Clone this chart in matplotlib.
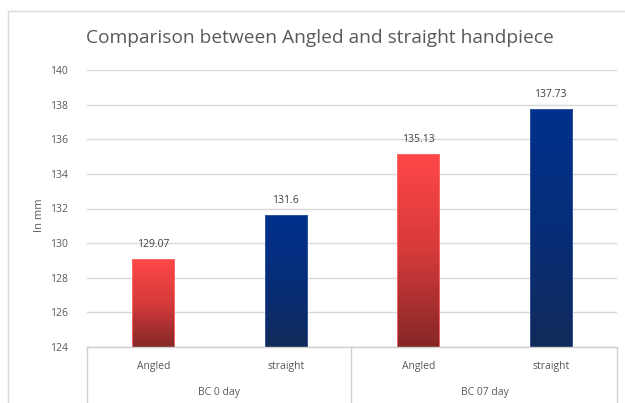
import numpy as np
import matplotlib.pyplot as plt
from matplotlib.colors import LinearSegmentedColormap
from matplotlib.lines import Line2D
from matplotlib.patches import Rectangle

plt.rcParams['font.family'] = ['Open Sans', 'DejaVu Sans']

# data
groups = ['BC 0 day', 'BC 07 day']
handpieces = ['Angled', 'straight', 'Angled', 'straight']
values = [129.07, 131.6, 135.13, 137.73]
bar_kind = ['red', 'blue', 'red', 'blue']

gradients = {
    'red': LinearSegmentedColormap.from_list('red_g', ['#852727', '#d63a3a', '#ff4747']),
    'blue': LinearSegmentedColormap.from_list('blue_g', ['#112a5a', '#072d78', '#00318c']),
}
edges = {'red': '#ff7070', 'blue': '#3a5aa8'}

fig = plt.figure(figsize=(6.25, 4.03), dpi=100)
W, H = 625, 403
ax = fig.add_axes([87 / W, 1 - 347 / H, (617 - 87) / W, (347 - 70) / H])

ymin, ymax = 124, 140
ax.set_ylim(ymin, ymax)
ax.set_xlim(-0.5, len(values) - 0.5)
ax.set_yticks(np.arange(ymin, ymax + 1, 2))
ax.set_xticks([])
ax.yaxis.grid(True, color='#d9d9d9', linewidth=1)
ax.set_axisbelow(True)
for s in ax.spines.values():
    s.set_visible(False)
ax.tick_params(axis='y', length=0, pad=14, labelsize=7.5, labelcolor='#595959')

width = 0.32
grad = np.linspace(0, 1, 256).reshape(-1, 1)
for i, (v, k) in enumerate(zip(values, bar_kind)):
    rect = Rectangle((i - width / 2, ymin), width, v - ymin,
                     facecolor='none', edgecolor=edges[k], linewidth=0.6, zorder=3)
    ax.add_patch(rect)
    im = ax.imshow(grad, cmap=gradients[k], origin='lower', aspect='auto',
                   extent=(i - width / 2, i + width / 2, ymin, v), zorder=2)
    im.set_clip_path(rect)
    ax.annotate(f'{v:g}', (i, v), xytext=(0, 7), textcoords='offset points',
                ha='center', va='bottom', fontsize=7.5, color='#404040')

ax.set_xlim(-0.5, len(values) - 0.5)
ax.set_ylim(ymin, ymax)

ax.set_ylabel('In mm', fontsize=8, color='#595959')
ax.yaxis.set_label_coords(-0.08, 0.476)

# category axis box
lc = '#d0d0d0'
def px(x, y):
    return x / W, 1 - y / H
fig.add_artist(Line2D([87 / W, 617 / W], [1 - 347 / H] * 2, color=lc, lw=1))
for xl in (87, 351, 617):
    fig.add_artist(Line2D([xl / W] * 2, [1 - 347 / H, 0], color=lc, lw=1))

for i, name in enumerate(handpieces):
    fig.text(*px(87 + (i + 0.5) * 132.5, 366), name, ha='center', va='center',
             fontsize=7.5, color='#595959')
for j, g in enumerate(groups):
    fig.text(*px(87 + (j + 0.5) * 265, 393), g, ha='center', va='center',
             fontsize=7.5, color='#595959')

# chart border
fig.add_artist(Line2D([8 / W, 8 / W, 1], [0, 1 - 11 / H, 1 - 11 / H], color='#d9d9d9', lw=1))

fig.text(*px(320, 38), 'Comparison between Angled and straight handpiece',
         ha='center', va='center', fontsize=13.8, color='#595959')

fig.savefig('out.png', dpi=100)
